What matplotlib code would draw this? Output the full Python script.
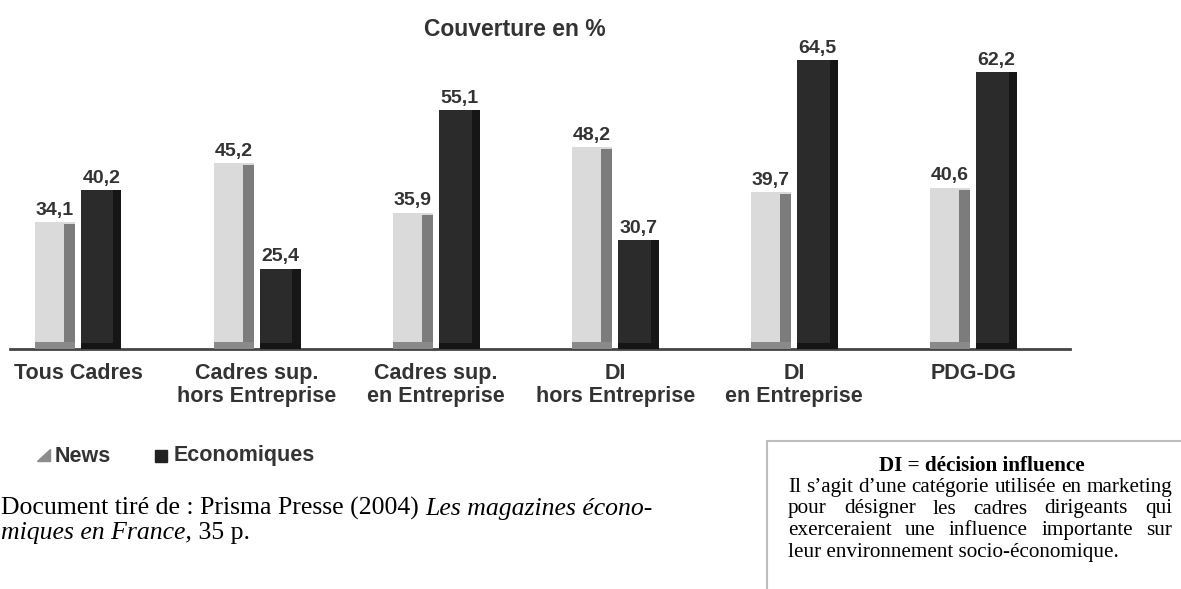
import matplotlib
matplotlib.use("Agg")
from matplotlib import pyplot as plt
from matplotlib.patches import Polygon, Rectangle
import numpy as np

categories = ["Tous Cadres", "Cadres sup.\nhors Entreprise", "Cadres sup.\nen Entreprise",
              "DI\nhors Entreprise", "DI\nen Entreprise", "PDG-DG"]
news = [34.1, 45.2, 35.9, 48.2, 39.7, 40.6]
economiques = [40.2, 25.4, 55.1, 30.7, 64.5, 62.2]
series_names = ["News", "Economiques"]

W, H = 1181, 589
fig = plt.figure(figsize=(W / 100, H / 100), dpi=100)
sans = "Liberation Sans"
serif = "Liberation Serif"


def fx(x):
    return x / W


def fy(y):
    return 1 - y / H


# chart area, baseline at y=349 px
ax = fig.add_axes([fx(10), fy(349), (1070 - 10) / W, (349 - 40) / H])
ymin = 10.3
ax.set_ylim(ymin, 68.3)
ax.set_xlim(-0.38, 5.54)

x = np.arange(len(categories))
bw = 0.225
off = 0.13
news_h = np.array(news) - ymin
eco_h = np.array(economiques) - ymin

# light "3D" bars: face, shaded side, shaded foot
ax.bar(x - off, news_h, bw, bottom=ymin, color="#dadada", zorder=2)
ax.bar(x - off + bw * 0.36, news_h - 0.4, bw * 0.28, bottom=ymin, color="#7c7c7c", zorder=3)
ax.bar(x - off, 1.4, bw, bottom=ymin, color="#8a8a8a", zorder=3)

# dark bars
ax.bar(x + off, eco_h, bw, bottom=ymin, color="#2b2b2b", zorder=2)
ax.bar(x + off + bw * 0.4, eco_h, bw * 0.2, bottom=ymin, color="#161616", zorder=3)
ax.bar(x + off, 1.2, bw, bottom=ymin, color="#151515", zorder=3)

for xi, v in zip(x, news):
    ax.text(xi - off, v + 0.6, f"{v:.1f}".replace(".", ","), ha="center", va="bottom",
            fontsize=14, fontweight="bold", color="#333333", family=sans)
for xi, v in zip(x, economiques):
    ax.text(xi + off, v + 0.6, f"{v:.1f}".replace(".", ","), ha="center", va="bottom",
            fontsize=14, fontweight="bold", color="#333333", family=sans)

for s in ["top", "right", "left"]:
    ax.spines[s].set_visible(False)
ax.spines["bottom"].set_color("#444444")
ax.spines["bottom"].set_linewidth(2)
ax.set_yticks([])
ax.set_xticks(x)
ax.set_xticklabels(categories, fontsize=15.5, fontweight="bold", color="#333333",
                   family=sans, linespacing=1.15)
ax.tick_params(axis="x", length=0, pad=10)

fig.text(fx(515), fy(30), "Couverture en %", ha="center", va="center",
         fontsize=16.5, fontweight="bold", color="#333333", family=sans)

# legend
fig.patches.append(Polygon([[fx(37), fy(461)], [fx(50), fy(461)], [fx(50), fy(449)]],
                           closed=True, transform=fig.transFigure, color="#8c8c8c"))
fig.text(fx(55), fy(456), series_names[0], va="center", fontsize=15.5, fontweight="bold",
         color="#333333", family=sans)
fig.patches.append(Rectangle((fx(155), fy(462)), fx(12), 12 / H, transform=fig.transFigure,
                             color="#222222"))
fig.text(fx(174), fy(456), series_names[1], va="center", fontsize=15.5, fontweight="bold",
         color="#333333", family=sans)

renderer = fig.canvas.get_renderer()

# source line, roman then italic
src_size = 18.5
t1 = fig.text(fx(1), fy(515), "Document tiré de : Prisma Presse (2004) ", va="baseline",
              fontsize=src_size, family=serif)
w1 = t1.get_window_extent(renderer).width
fig.text(fx(1 + w1), fy(515), "Les magazines écono-", va="baseline", fontsize=src_size,
         family=serif, style="italic")
t2 = fig.text(fx(1), fy(539), "miques en France,", va="baseline", fontsize=src_size,
              family=serif, style="italic")
w2 = t2.get_window_extent(renderer).width
fig.text(fx(1 + w2), fy(539), " 35 p.", va="baseline", fontsize=src_size, family=serif)

# note box
note_size = 15.2
fig.patches.append(Rectangle((fx(767), fy(600)), fx(430), 159 / H, transform=fig.transFigure,
                             facecolor="none", edgecolor="#bdbdbd", linewidth=1.5))
fig.text(fx(982), fy(471), "DI = décision influence", ha="center", va="baseline",
         fontsize=note_size, fontweight="bold", family=serif)

note_lines = ["Il s’agit d’une catégorie utilisée en marketing",
              "pour désigner les cadres dirigeants qui",
              "exerceraient une influence importante sur",
              "leur environnement socio-économique."]
left, right = 788, 1172
base = 492
for i, line in enumerate(note_lines):
    y = base + i * 21.5
    if i == len(note_lines) - 1:
        fig.text(fx(left), fy(y), line, va="baseline", fontsize=note_size, family=serif)
        continue
    words = line.split(" ")
    widths = []
    for w in words:
        tmp = fig.text(0, 0, w, fontsize=note_size, family=serif)
        widths.append(tmp.get_window_extent(renderer).width)
        tmp.remove()
    gap = (right - left - sum(widths)) / (len(words) - 1)
    xpos = left
    for w, ww in zip(words, widths):
        fig.text(fx(xpos), fy(y), w, va="baseline", fontsize=note_size, family=serif)
        xpos += ww + gap

fig.savefig("out.png", dpi=100)
